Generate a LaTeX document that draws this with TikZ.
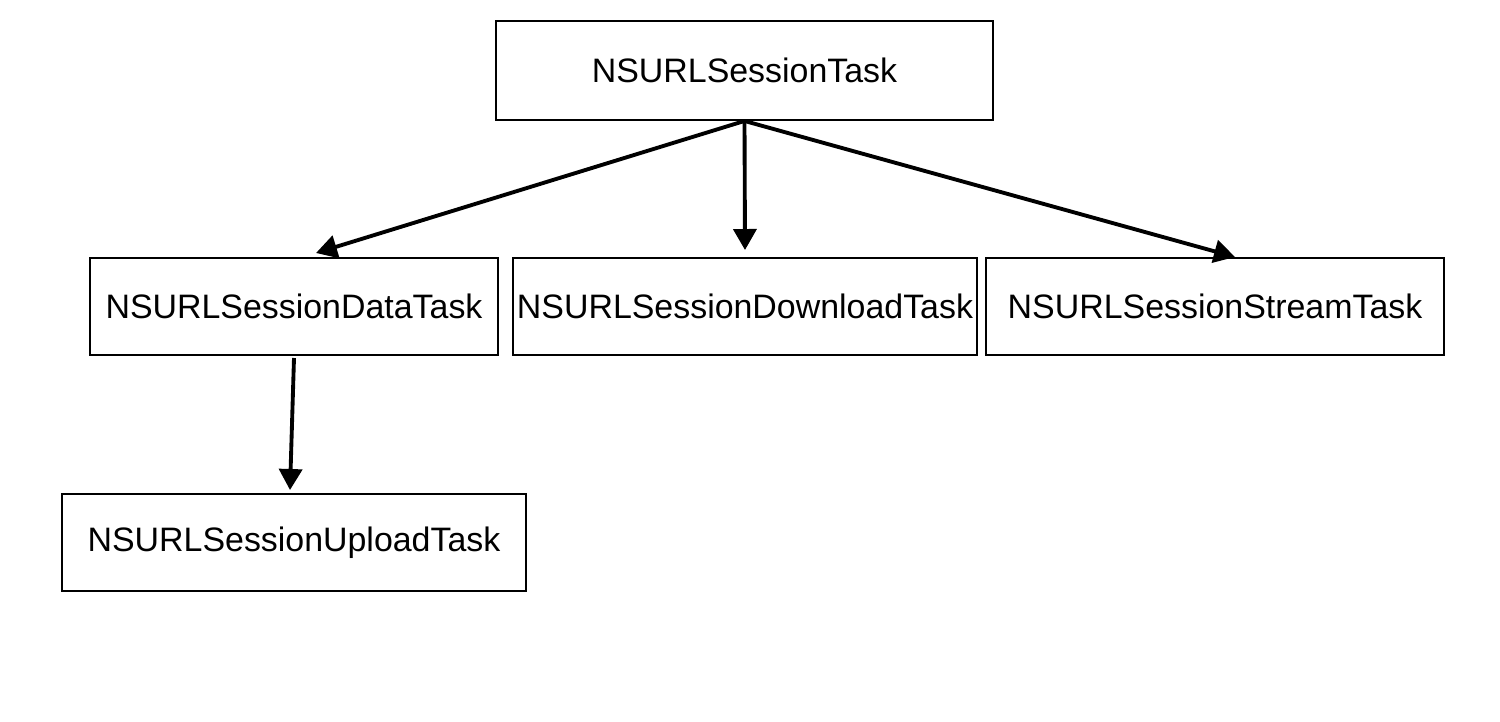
\documentclass[tikz,border=0pt]{standalone}
\usepackage{fontspec}
\setmainfont{Liberation Sans}
\usetikzlibrary{arrows.meta}
\begin{document}
\begin{tikzpicture}[x=0.02cm, y=-0.02cm,
    box/.style={draw, line width=1.1pt, inner sep=0pt, minimum height=1.95cm, font=\fontsize{19.3}{23}\selectfont},
    link/.style={line width=2.2pt, -{Triangle[length=0.42cm, width=0.46cm]}}]
        \useasboundingbox (0,0) rectangle (1500,721);

        \node[box, minimum width=9.94cm, minimum height=1.98cm] (task) at (744.5,70.5) {NSURLSessionTask};
        \node[box, minimum width=8.16cm] (data) at (294,306.5) {NSURLSessionDataTask};
        \node[box, minimum width=9.28cm] (download) at (745,306.5) {NSURLSessionDownloadTask};
        \node[box, minimum width=9.16cm] (stream) at (1215,306.5) {NSURLSessionStreamTask};
        \node[box, minimum width=9.28cm] (upload) at (294,542.5) {NSURLSessionUploadTask};

        % free ends just above the boxes
        \coordinate (dataIn) at (316,253);
        \coordinate (downloadIn) at (745,250);
        \coordinate (streamIn) at (1235,257);
        \coordinate (dataOut) at (294,358);
        \coordinate (uploadIn) at (290,490);

        \draw[link] (task.south) -- (dataIn);
        \draw[link] (task.south) -- (downloadIn);
        \draw[link] (task.south) -- (streamIn);
        \draw[link] (dataOut) -- (uploadIn);
    \end{tikzpicture}
\end{document}
